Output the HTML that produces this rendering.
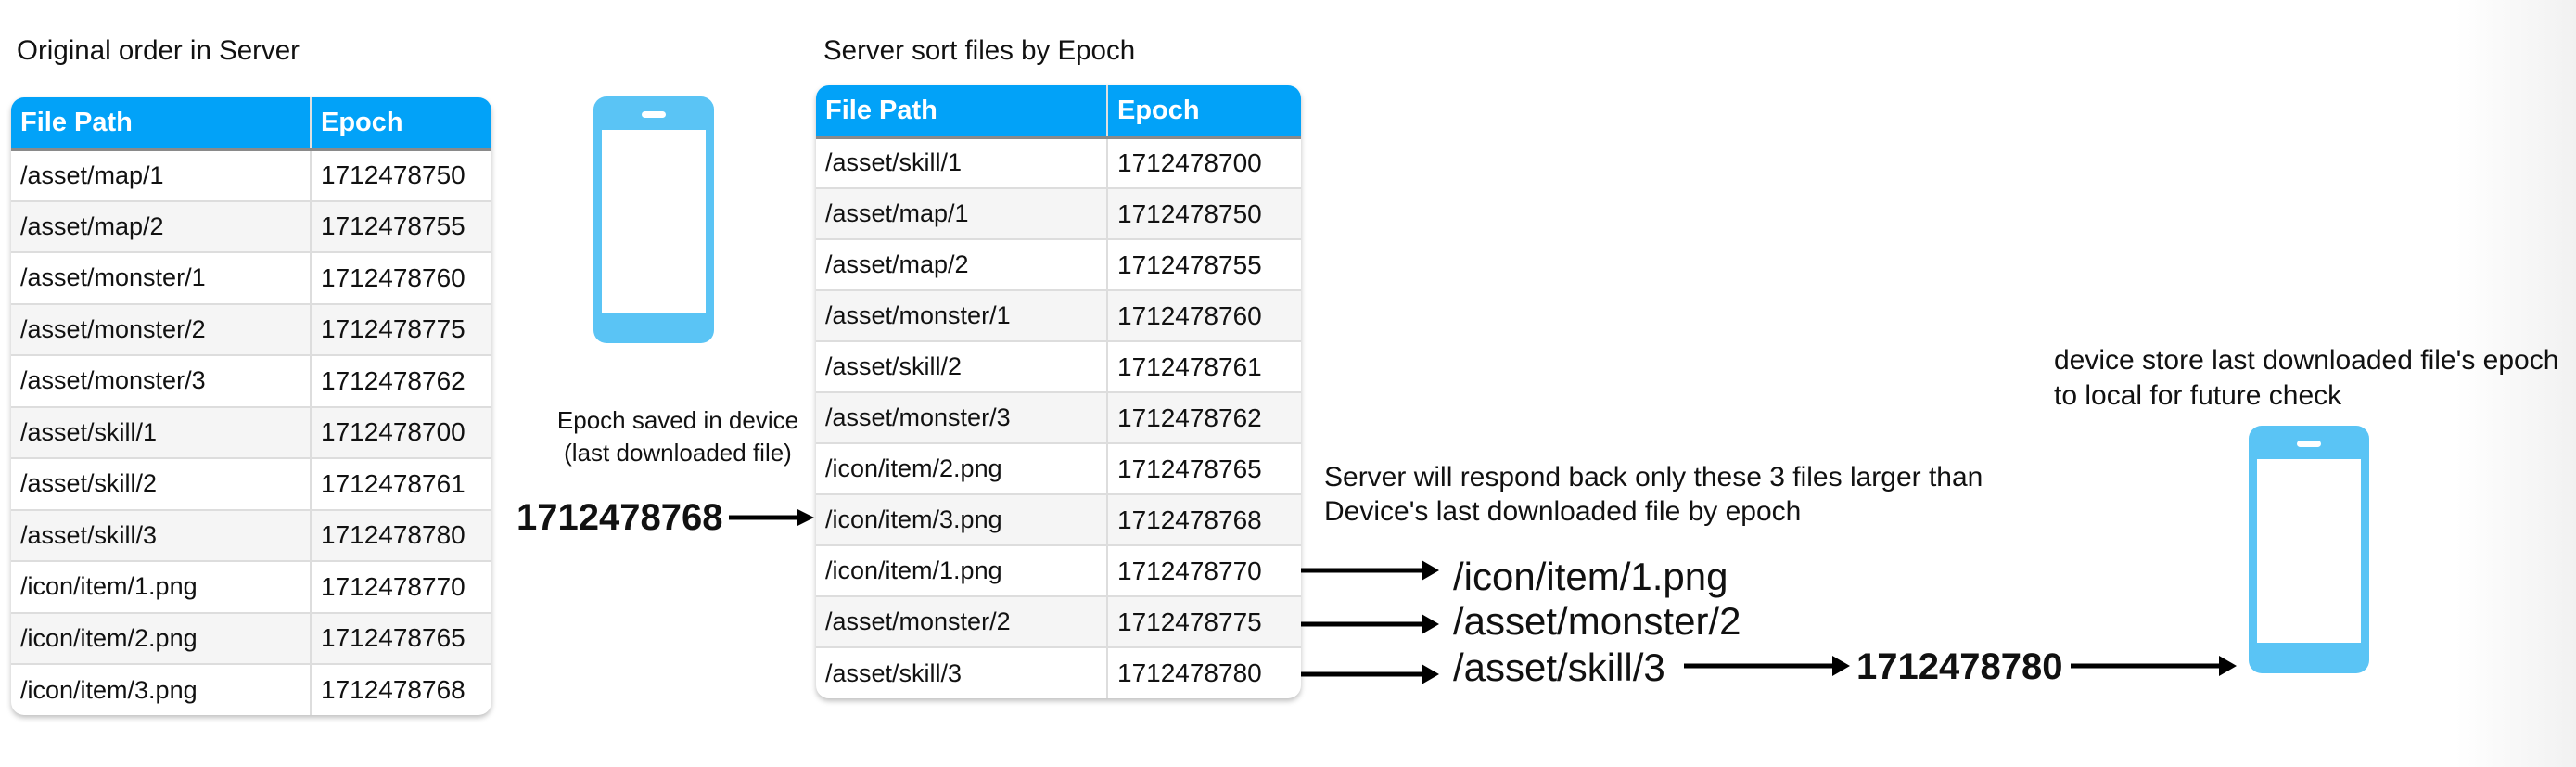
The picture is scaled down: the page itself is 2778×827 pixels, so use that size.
<!DOCTYPE html>
<html><head><meta charset="utf-8"><style>
*{margin:0;padding:0;box-sizing:border-box}
body{width:2778px;height:827px;position:relative;overflow:hidden;background:#fff;font-family:"Liberation Sans",sans-serif;color:#111}
.t{position:absolute;white-space:nowrap}
.tbl{position:absolute;border-radius:14px;overflow:hidden;box-shadow:0 3px 6px rgba(0,0,0,0.25);background:#fff}
.tbl table{border-collapse:collapse;width:100%;table-layout:fixed}
.tbl th{background:#02a2f8;color:#fff;font-weight:bold;font-size:29px;text-align:left;padding-left:10px;border-bottom:3px solid #8a8a8a}
.tbl th+th{border-left:2px solid #e0e0e0}
.tbl td{font-size:28px;padding-left:10px;border-top:2px solid #ddd;color:#111}
.tbl td:first-child{font-size:27px}
.tbl td+td{border-left:2px solid #ddd}
.tbl tr:nth-child(odd) td{background:#f5f5f5}
.phone{position:absolute;width:130px;height:266px;background:#5ac4f5;border-radius:14px}
.phone .scr{position:absolute;left:9px;right:9px;top:36px;bottom:33px;background:#fff}
.phone .sp{position:absolute;left:52px;width:26px;top:16px;height:7px;border-radius:4px;background:#fff}
.shade{position:absolute;right:0;top:0;width:130px;height:827px;background:linear-gradient(to right,rgba(240,240,240,0),#f1f1f1)}
</style></head><body>
<div class="shade"></div>
<div class="t" style="left:18px;top:38px;font-size:29.5px">Original order in Server</div>
<div class="tbl" style="left:12px;top:105px;width:518px;height:666px">
<table>
<colgroup><col style="width:323px"><col></colgroup>
<tr style="height:56px"><th>File Path</th><th>Epoch</th></tr>
<tr style="height:55.5px"><td>/asset/map/1</td><td>1712478750</td></tr>
<tr style="height:55.5px"><td>/asset/map/2</td><td>1712478755</td></tr>
<tr style="height:55.5px"><td>/asset/monster/1</td><td>1712478760</td></tr>
<tr style="height:55.5px"><td>/asset/monster/2</td><td>1712478775</td></tr>
<tr style="height:55.5px"><td>/asset/monster/3</td><td>1712478762</td></tr>
<tr style="height:55.5px"><td>/asset/skill/1</td><td>1712478700</td></tr>
<tr style="height:55.5px"><td>/asset/skill/2</td><td>1712478761</td></tr>
<tr style="height:55.5px"><td>/asset/skill/3</td><td>1712478780</td></tr>
<tr style="height:55.5px"><td>/icon/item/1.png</td><td>1712478770</td></tr>
<tr style="height:55.5px"><td>/icon/item/2.png</td><td>1712478765</td></tr>
<tr style="height:55.5px"><td>/icon/item/3.png</td><td>1712478768</td></tr>
</table></div>

<div class="phone" style="left:640px;top:104px"><div class="sp"></div><div class="scr"></div></div>

<div class="t" style="left:596px;top:436px;font-size:26px;text-align:center;width:270px;line-height:35px">Epoch saved in device<br>(last downloaded file)</div>
<div class="t" style="left:557px;top:536px;font-size:40px;font-weight:bold">1712478768</div>
<svg style="position:absolute;left:0;top:0" width="2778" height="827">
<g stroke="#000" stroke-width="5" fill="#000">
<line x1="786" y1="558" x2="862" y2="558"/>
<line x1="1403" y1="615" x2="1535" y2="615"/>
<line x1="1403" y1="673" x2="1535" y2="673"/>
<line x1="1403" y1="727" x2="1535" y2="727"/>
<line x1="1816" y1="718" x2="1978" y2="718"/>
<line x1="2233" y1="718" x2="2395" y2="718"/>
</g>
<g fill="#000">
<polygon points="860,549 878,558 860,567"/>
<polygon points="1533,604 1552,615 1533,626"/>
<polygon points="1533,662 1552,673 1533,684"/>
<polygon points="1533,716 1552,727 1533,738"/>
<polygon points="1976,707 1995,718 1976,729"/>
<polygon points="2393,707 2412,718 2393,729"/>
</g>
</svg>

<div class="t" style="left:888px;top:38px;font-size:29.5px">Server sort files by Epoch</div>
<div class="tbl" style="left:880px;top:92px;width:523px;height:661px">
<table>
<colgroup><col style="width:314px"><col></colgroup>
<tr style="height:56px"><th>File Path</th><th>Epoch</th></tr>
<tr style="height:55px"><td>/asset/skill/1</td><td>1712478700</td></tr>
<tr style="height:55px"><td>/asset/map/1</td><td>1712478750</td></tr>
<tr style="height:55px"><td>/asset/map/2</td><td>1712478755</td></tr>
<tr style="height:55px"><td>/asset/monster/1</td><td>1712478760</td></tr>
<tr style="height:55px"><td>/asset/skill/2</td><td>1712478761</td></tr>
<tr style="height:55px"><td>/asset/monster/3</td><td>1712478762</td></tr>
<tr style="height:55px"><td>/icon/item/2.png</td><td>1712478765</td></tr>
<tr style="height:55px"><td>/icon/item/3.png</td><td>1712478768</td></tr>
<tr style="height:55px"><td>/icon/item/1.png</td><td>1712478770</td></tr>
<tr style="height:55px"><td>/asset/monster/2</td><td>1712478775</td></tr>
<tr style="height:55px"><td>/asset/skill/3</td><td>1712478780</td></tr>
</table></div>

<div class="t" style="left:1428px;top:496px;font-size:30px;line-height:37px">Server will respond back only these 3 files larger than<br>Device's last downloaded file by epoch</div>
<div class="t" style="left:1567px;top:598px;font-size:42px">/icon/item/1.png</div>
<div class="t" style="left:1567px;top:646px;font-size:42px">/asset/monster/2</div>
<div class="t" style="left:1567px;top:696px;font-size:42px">/asset/skill/3</div>
<div class="t" style="left:2002px;top:697px;font-size:40px;font-weight:bold">1712478780</div>

<div class="t" style="left:2215px;top:370px;font-size:30px;line-height:38px">device store last downloaded file's epoch<br>to local for future check</div>
<div class="phone" style="left:2425px;top:459px;height:267px"><div class="sp"></div><div class="scr"></div></div>
</body></html>
